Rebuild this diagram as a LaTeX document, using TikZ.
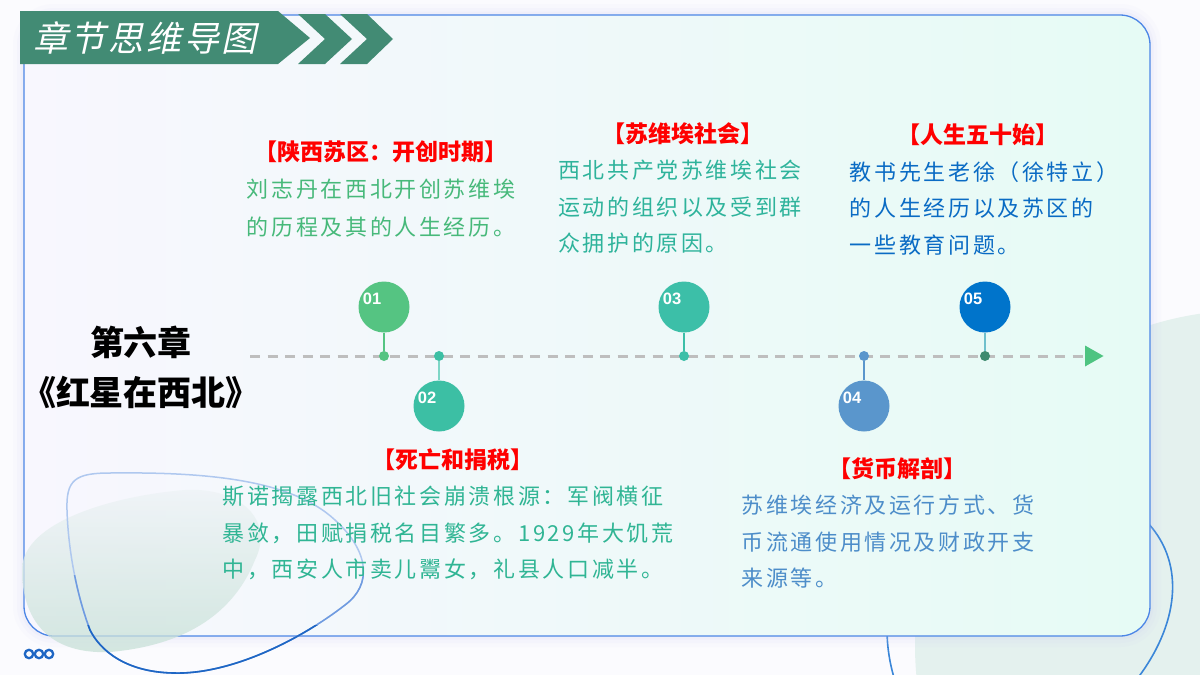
\documentclass[tikz,border=0pt]{standalone}
\usepackage{fontspec}
\setmainfont{Liberation Sans}
\newfontfamily\cjk{Noto Sans CJK SC}
\newfontfamily\cjkbody{Noto Sans CJK SC}[LetterSpace=12]
\newfontfamily\cjkhead{Noto Sans CJK SC}[FakeSlant=0.22,LetterSpace=8]
\usetikzlibrary{positioning}

\definecolor{pagebg}{HTML}{FBFBFE}
\definecolor{banner}{HTML}{428B74}
\definecolor{cardL}{HTML}{F8F7FE}
\definecolor{cardR}{HTML}{E6FBF5}
\definecolor{cardline}{HTML}{4C86E6}
\definecolor{glow}{HTML}{C9C6F2}
\definecolor{greyg}{HTML}{E4F1EE}
\definecolor{ringblue}{HTML}{3A86D8}
\definecolor{blobtop}{HTML}{EEF3F6}
\definecolor{blobbot}{HTML}{C6E0D6}
\definecolor{lineL}{HTML}{AFC8EF}
\definecolor{lineM}{HTML}{6F9BE0}
\definecolor{lineD}{HTML}{1E66C4}
\definecolor{dashgrey}{HTML}{BEBEBE}
\definecolor{arrowg}{HTML}{4EC481}
\definecolor{cA}{HTML}{55C482}
\definecolor{cB}{HTML}{3CBFA4}
\definecolor{cBs}{HTML}{7ED6C6}
\definecolor{cC}{HTML}{3CBFA8}
\definecolor{cD}{HTML}{5A96CC}
\definecolor{cE}{HTML}{0074CB}
\definecolor{cEd}{HTML}{3E8A6F}
\definecolor{cEs}{HTML}{6FC0CC}
\definecolor{tA}{HTML}{47B97A}
\definecolor{tB}{HTML}{30B594}
\definecolor{tC}{HTML}{2EB39B}
\definecolor{tD}{HTML}{4D8DC9}
\definecolor{tE}{HTML}{0A6BC4}

\begin{document}
\begin{tikzpicture}[x=1pt, y=-1pt,
  ball/.style={circle, fill=#1, minimum size=51pt, inner sep=0pt},
  tldot/.style={circle, fill=#1, minimum size=10pt, inner sep=0pt},
  num/.style={font=\bfseries\fontsize{16.5}{16.5}\selectfont, text=white, inner sep=0pt},
  stemline/.style={draw=#1, line width=1.3pt},
  hdtext/.style={font=\cjk\bfseries\fontsize{23}{23}\selectfont, text=red, inner sep=0pt, text height=0.8em, text depth=0.08em},
  bdtext/.style={font=\cjkbody\fontsize{22}{36.5}\selectfont, text=#1, align=left, inner sep=0pt}
]
  \useasboundingbox (0,0) rectangle (1200,675);
  \fill[pagebg] (0,0) rectangle (1200,675);

  % decorations behind the card
  \fill[greyg] (1250,645) circle (335);
  \draw[ringblue, line width=1.6pt] (930,520) .. controls (880,580) and (880,640) .. (898,690)
    .. controls (950,760) and (1110,720) .. (1140,675) .. controls (1180,620) and (1185,560) .. (1145,520);

  % card
  \foreach \w/\o in {22/0.05, 14/0.07, 7/0.1}
    \draw[glow, line width=\w pt, opacity=\o, rounded corners=30pt] (24,15) rectangle (1150,636);
  \draw[left color=cardL, right color=cardR, draw=cardline, line width=1.3pt, rounded corners=30pt] (24,15) rectangle (1150,636);

  % decorations in front of the card
  \shade[top color=blobtop, bottom color=blobbot, opacity=0.75] (22,570) .. controls (22,520) and (120,495) .. (185,490)
    .. controls (240,487) and (275,520) .. (255,560) .. controls (235,610) and (190,645) .. (110,652)
    .. controls (40,655) and (22,610) .. (22,570);
  \def\lens{(67,510) .. controls (66,480) and (75,473) .. (110,473) .. controls (200,472) and (290,478) .. (335,520)
    .. controls (370,552) and (372,585) .. (345,605) .. controls (300,640) and (230,675) .. (173,673)
    .. controls (125,672) and (100,650) .. (90,630) .. controls (75,590) and (68,545) .. (67,510) -- cycle}
  \draw[lineL, line width=1.5pt] \lens;
  \begin{scope}
    \clip (0,575) rectangle (400,700);
    \draw[lineM, line width=1.5pt] \lens;
  \end{scope}
  \begin{scope}
    \clip (0,625) rectangle (400,700);
    \draw[lineD, line width=1.6pt] \lens;
  \end{scope}
  \foreach \x in {29,39,49}
    \draw[lineD, line width=2.3pt] (\x,654) circle (4.2);

  % header
  \fill[banner] (20,11) -- (278,11) -- (310,38) -- (278,64) -- (20,64) -- cycle;
  \fill[banner] (298,14) -- (325,14) -- (352,39) -- (325,64) -- (298,64) -- (325,39) -- cycle;
  \fill[banner] (340,14) -- (367,14) -- (393,39) -- (367,64) -- (340,64) -- (367,39) -- cycle;
  \node[font=\cjkhead\fontsize{35}{35}\selectfont, text=white, inner sep=0pt] (title) at (145,38) {章节思维导图};

  % chapter
  \node[font=\cjk\bfseries\fontsize{34}{50}\selectfont, align=center, inner sep=0pt] (chap) at (141,367) {第六章\\《红星在西北》};

  % timeline
  \coordinate (ta) at (250,356);
  \coordinate (tz) at (1085,356);
  \draw[dashgrey, line width=3pt, dash pattern=on 10pt off 7.5pt] (ta) -- (tz);
  \fill[arrowg] (tz) -- ++(0,-10.5) -- ++(18.5,10.5) -- ++(-18.5,10.5) -- cycle;

  \node[tldot=cA] (d1) at (384,356) {};
  \node[tldot=cB] (d2) at (439,356) {};
  \node[tldot=cC] (d3) at (684,356) {};
  \node[tldot=cD] (d4) at (864,356) {};
  \node[tldot=cEd] (d5) at (985,356) {};

  \node[ball=cA, label={[num, xshift=-12pt, yshift=8pt]center:01}] (n1) at (384,307) {};
  \node[ball=cB, label={[num, xshift=-12pt, yshift=8pt]center:02}] (n2) at (439,406) {};
  \node[ball=cC, label={[num, xshift=-12pt, yshift=8pt]center:03}] (n3) at (684,307) {};
  \node[ball=cD, label={[num, xshift=-12pt, yshift=8pt]center:04}] (n4) at (864,406) {};
  \node[ball=cE, label={[num, xshift=-12pt, yshift=8pt]center:05}] (n5) at (985,307) {};

  \draw[stemline=cA] (n1) -- (d1);
  \draw[stemline=cBs] (n2) -- (d2);
  \draw[stemline=cC] (n3) -- (d3);
  \draw[stemline=cD] (n4) -- (d4);
  \draw[stemline=cEs] (n5) -- (d5);

  % texts
  \node[hdtext] (h1) at (381,157) {【陕西苏区：开创时期】};
  \node[bdtext=tA, font=\cjkbody\fontsize{22}{38.5}\selectfont, below=17pt of h1] (b1) {刘志丹在西北开创苏维埃\\的历程及其的人生经历。};
  \node[hdtext] (h3) at (683,139) {【苏维埃社会】};
  \node[bdtext=tC, below=16.5pt of h3, xshift=-3pt] (b3) {西北共产党苏维埃社会\\运动的组织以及受到群\\众拥护的原因。};
  \node[hdtext] (h5) at (978,140) {【人生五十始】};
  \node[bdtext=tE, below=16.5pt of h5, xshift=6pt] (b5) {教书先生老徐（徐特立）\\的人生经历以及苏区的\\一些教育问题。};
  \node[hdtext] (h2) at (453,465) {【死亡和捐税】};
  \node[bdtext=tB, below=16.5pt of h2, xshift=-5pt] (b2) {斯诺揭露西北旧社会崩溃根源：军阀横征\\暴敛，田赋捐税名目繁多。1929年大饥荒\\中，西安人市卖儿鬻女，礼县人口减半。};
  \node[hdtext] (h4) at (897,474) {【货币解剖】};
  \node[bdtext=tD, below=16.5pt of h4, xshift=-9pt] (b4) {苏维埃经济及运行方式、货\\币流通使用情况及财政开支\\来源等。};
\end{tikzpicture}
\end{document}
